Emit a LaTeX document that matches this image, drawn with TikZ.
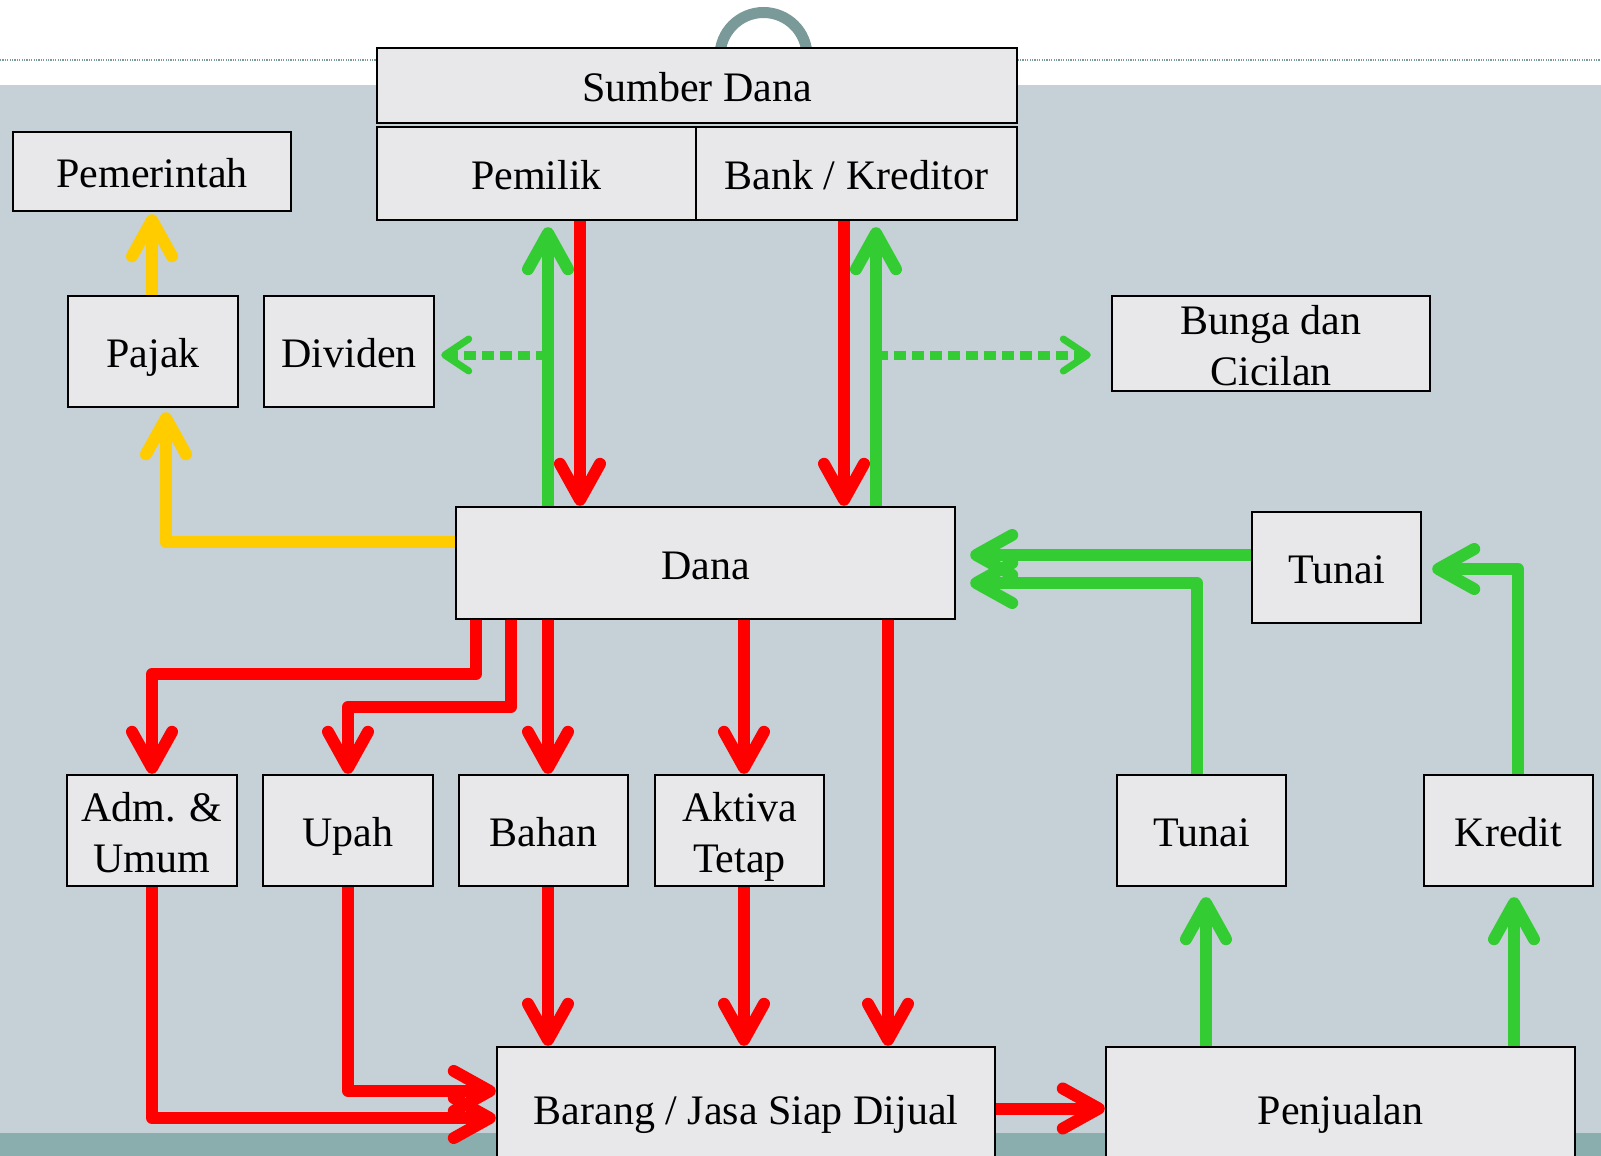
\documentclass[tikz,border=0pt]{standalone}
\usepackage{fontspec}
\setmainfont{Liberation Serif}
\usetikzlibrary{arrows.meta}
\definecolor{bgblue}{RGB}{197,209,215}
\definecolor{strip}{RGB}{138,173,173}
\definecolor{arcc}{RGB}{122,154,154}
\definecolor{marble}{RGB}{232,232,235}
\definecolor{myred}{RGB}{255,0,0}
\definecolor{mygreen}{RGB}{51,204,51}
\definecolor{myyellow}{RGB}{255,204,0}
\tikzset{
  box/.style={draw=black, line width=1.2pt, fill=marble, inner sep=0pt, align=center,
    font=\fontsize{21}{25.5}\selectfont, text height=18pt, text depth=2pt},
  two/.style={text height=43.5pt, text depth=2pt},
  tipb/.tip={Straight Barb[round, length=18pt, width=20pt]},
  flow/.style={line width=6pt, line join=round, -{tipb}},
  rd/.style={flow, myred},
  grn/.style={flow, mygreen},
  yel/.style={flow, myyellow},
  grndot/.style={line width=4.5pt, mygreen, dash pattern=on 6pt off 3pt,
    -{Straight Barb[round, length=12pt, width=16pt, line width=3.5pt]}},
}
\newcommand\mybox[7][]{\node[box, #1, minimum width={(#5-#3)*0.5pt}, minimum height={(#6-#4)*0.5pt}] (#2) at ({(#3+#5)/2},{(#4+#6)/2}) {#7};}
\begin{document}
\begin{tikzpicture}[x=0.5pt, y=-0.5pt]
\useasboundingbox (0,0) rectangle (1601,1156);
\clip (0,0) rectangle (1601,1156);
% background
\fill[white] (0,0) rectangle (1601,1156);
\fill[bgblue] (0,85) rectangle (1601,1133);
\fill[strip] (0,1133) rectangle (1601,1156);
\draw[arcc, line width=0.6pt, dash pattern=on 0.6pt off 0.6pt] (0,60) -- (1601,60);
\draw[arcc, line width=5.5pt] (720,56) arc (180:360:43.5);
% boxes
\mybox{sd}{377}{48}{1017}{123}{Sumber Dana}
\mybox{pml}{377}{127}{696}{220}{Pemilik}
\mybox{bank}{696}{127}{1017}{220}{Bank / Kreditor}
\mybox{pem}{13}{132}{291}{211}{Pemerintah}
\mybox{pajak}{68}{296}{238}{407}{Pajak}
\mybox{div}{264}{296}{434}{407}{Dividen}
\mybox[two]{bunga}{1112}{296}{1430}{391}{Bunga dan\\Cicilan}
\mybox{dana}{456}{507}{955}{619}{Dana}
\mybox{tunaiA}{1252}{512}{1421}{623}{Tunai}
\mybox[two]{adm}{67}{775}{237}{886}{Adm. \&\\Umum}
\mybox{upah}{263}{775}{433}{886}{Upah}
\mybox{bahan}{459}{775}{628}{886}{Bahan}
\mybox[two]{akt}{655}{775}{824}{886}{Aktiva\\Tetap}
\mybox{tunaiB}{1117}{775}{1286}{886}{Tunai}
\mybox{kredit}{1424}{775}{1593}{886}{Kredit}
\mybox{barang}{497}{1047}{995}{1170}{Barang / Jasa Siap Dijual}
\mybox{penj}{1106}{1047}{1575}{1170}{Penjualan}
% helper coordinates
\coordinate (gP) at (548,0);
\coordinate (rP) at (580,0);
\coordinate (rB) at (844,0);
\coordinate (gB) at (876,0);
\coordinate (yDot) at (0,355);
\coordinate (yY) at (0,542);
\coordinate (xY) at (166,0);
\coordinate (xYt) at (152,0);
\coordinate (xa1) at (476,0);
\coordinate (ya1) at (0,674);
\coordinate (xa2) at (511,0);
\coordinate (ya2) at (0,707);
\coordinate (xAk) at (744,0);
\coordinate (xBr) at (888,0);
\coordinate (yb1) at (0,1118);
\coordinate (yb2) at (0,1091);
\coordinate (xT) at (1206,0);
\coordinate (xK) at (1514,0);
\coordinate (xT2) at (1197,0);
\coordinate (yT2) at (0,583);
\coordinate (yT1) at (0,555);
\coordinate (xK2) at (1518,0);
\coordinate (yK2) at (0,569);
% sources of funds
\draw[grn, shorten >=3pt] (dana.north -| gP) -- (pml.south -| gP);
\draw[rd] (pml.south -| rP) -- (dana.north -| rP);
\draw[rd] (bank.south -| rB) -- (dana.north -| rB);
\draw[grn, shorten >=3pt] (dana.north -| gB) -- (bank.south -| gB);
\draw[grndot, shorten >=3pt] (gP |- yDot) -- (div.east |- yDot);
\draw[grndot, shorten >=10pt] (gB |- yDot) -- (bunga.west |- yDot);
% taxes
\draw[yel, shorten >=2pt] (dana.west |- yY) -- (xY |- yY) -- (pajak.south -| xY);
\draw[yel, shorten >=1pt] (pajak.north -| xYt) -- (pem.south -| xYt);
% uses of funds
\draw[rd] (dana.south -| xa1) -- (xa1 |- ya1) -- (adm.north |- ya1) -- (adm.north);
\draw[rd] (dana.south -| xa2) -- (xa2 |- ya2) -- (upah.north |- ya2) -- (upah.north);
\draw[rd] (dana.south -| gP) -- (bahan.north -| gP);
\draw[rd] (dana.south -| xAk) -- (akt.north -| xAk);
\draw[rd] (dana.south -| xBr) -- (barang.north -| xBr);
\draw[rd] (adm.south) -- (adm.south |- yb1) -- (barang.west |- yb1);
\draw[rd] (upah.south) -- (upah.south |- yb2) -- (barang.west |- yb2);
\draw[rd] (bahan.south -| gP) -- (barang.north -| gP);
\draw[rd] (akt.south -| xAk) -- (barang.north -| xAk);
\draw[rd] (barang.east) -- (penj.west);
% sales
\draw[grn, shorten >=5pt] (penj.north -| xT) -- (tunaiB.south -| xT);
\draw[grn, shorten >=5pt] (penj.north -| xK) -- (kredit.south -| xK);
\draw[grn, shorten >=7pt] (tunaiB.north -| xT2) -- (xT2 |- yT2) -- (dana.east |- yT2);
\draw[grn, shorten >=7pt] (tunaiA.west |- yT1) -- (dana.east |- yT1);
\draw[grn, shorten >=5pt] (kredit.north -| xK2) -- (xK2 |- yK2) -- (tunaiA.east |- yK2);
\end{tikzpicture}
\end{document}
